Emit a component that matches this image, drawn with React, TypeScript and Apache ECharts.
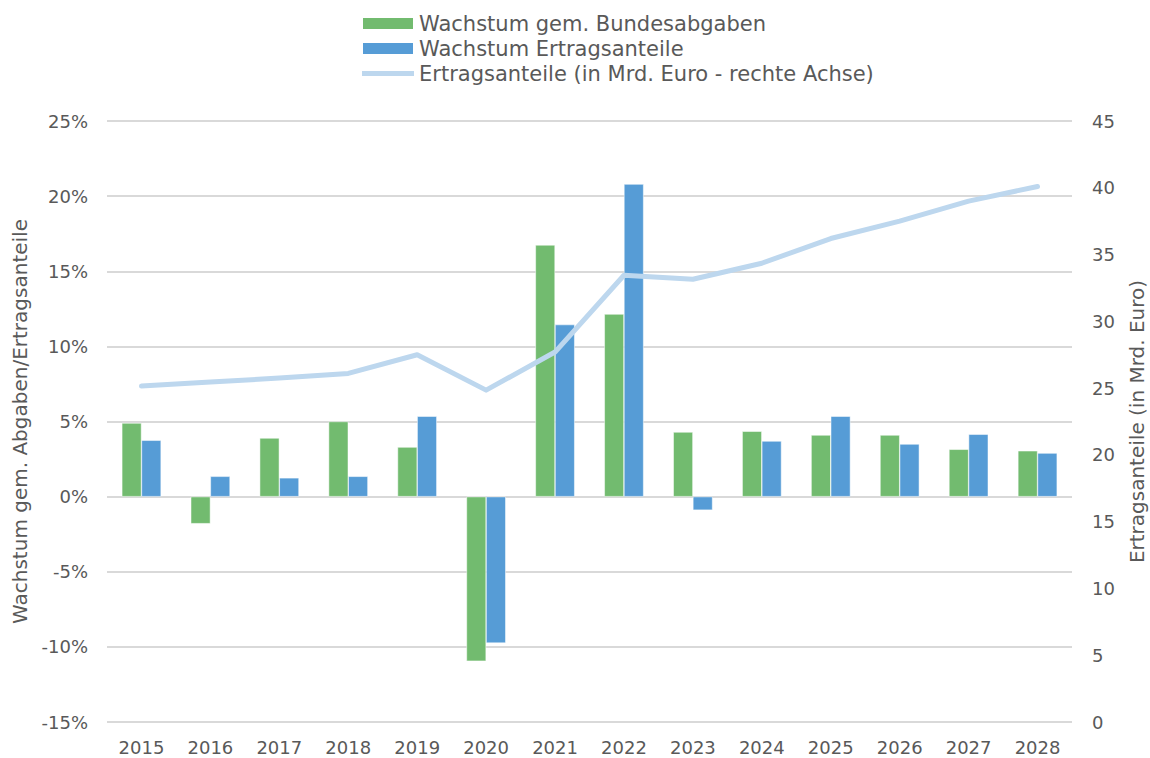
import React, { useEffect, useRef } from "react";
import * as echarts from "echarts";

const years = ["2015", "2016", "2017", "2018", "2019", "2020", "2021", "2022", "2023", "2024", "2025", "2026", "2027", "2028"];
const wachstumBundesabgaben = [4.9, -1.8, 3.9, 5.0, 3.3, -10.95, 16.75, 12.15, 4.3, 4.35, 4.1, 4.1, 3.15, 3.05];
const wachstumErtragsanteile = [3.75, 1.35, 1.25, 1.35, 5.35, -9.75, 11.45, 20.8, -0.9, 3.7, 5.35, 3.5, 4.15, 2.9];
const ertragsanteileMrd = [25.15, 25.45, 25.75, 26.1, 27.5, 24.85, 27.7, 33.45, 33.15, 34.35, 36.2, 37.5, 39.0, 40.1];

const legendNames = [
  "Wachstum gem. Bundesabgaben",
  "Wachstum Ertragsanteile",
  "Ertragsanteile (in Mrd. Euro - rechte Achse)",
];

const FONT = "'Century Gothic', 'DejaVu Sans', sans-serif";
const TXT = "#595959";

export default function App() {
  const ref = useRef<HTMLDivElement>(null);
  useEffect(() => {
    if (!ref.current) return;
    const chart = echarts.init(ref.current, null, { renderer: "svg" });
    chart.setOption({
      animation: false,
      textStyle: { fontFamily: FONT, color: TXT },
      legend: {
        orient: "vertical",
        left: 356,
        top: 8,
        padding: [5, 5, 5, 5],
        itemWidth: 52,
        itemHeight: 13,
        itemGap: 4,
        symbolKeepAspect: true,
        textStyle: { fontFamily: FONT, fontSize: 21, color: TXT, lineHeight: 21 },
        data: [
          { name: legendNames[0], icon: "rect" },
          { name: legendNames[1], icon: "rect" },
          { name: legendNames[2], icon: "path://M0,0 L52,0 L52,5 L0,5 Z", itemStyle: { color: "#BDD7EE" } },
        ],
      },
      grid: { left: 107, right: 78, top: 121, bottom: 36, containLabel: false, outerBoundsMode: "none" },
      xAxis: {
        type: "category",
        data: years,
        axisLine: { show: false, onZero: false },
        axisTick: { show: false },
        axisLabel: { fontFamily: FONT, fontSize: 18, color: TXT, margin: 16 },
      },
      yAxis: [
        {
          type: "value",
          min: -15,
          max: 25,
          interval: 5,
          name: "Wachstum gem. Abgaben/Ertragsanteile",
          nameLocation: "middle",
          nameGap: 77,
          nameMoveOverlap: false,
          nameTextStyle: { fontFamily: FONT, fontSize: 20, color: TXT },
          axisLabel: { formatter: "{value}%", fontFamily: FONT, fontSize: 18, color: TXT, margin: 19 },
          axisLine: { show: false },
          axisTick: { show: false },
          splitLine: { lineStyle: { color: "#d9d9d9", width: 2 } },
        },
        {
          type: "value",
          min: 0,
          max: 45,
          interval: 5,
          name: "Ertragsanteile (in Mrd. Euro)",
          nameLocation: "middle",
          nameGap: 55,
          nameRotate: 90,
          nameMoveOverlap: false,
          nameTextStyle: { fontFamily: FONT, fontSize: 20, color: TXT },
          axisLabel: { fontFamily: FONT, fontSize: 18, color: TXT, margin: 20 },
          axisLine: { show: false },
          axisTick: { show: false },
          splitLine: { show: false },
        },
      ],
      series: [
        {
          name: legendNames[0],
          type: "bar",
          data: wachstumBundesabgaben,
          yAxisIndex: 0,
          barGap: "0%",
          barCategoryGap: "43%",
          itemStyle: { color: "#72BB6F", borderColor: "#ffffff", borderWidth: 0.5 },
        },
        {
          name: legendNames[1],
          type: "bar",
          data: wachstumErtragsanteile,
          yAxisIndex: 0,
          barGap: "0%",
          barCategoryGap: "43%",
          itemStyle: { color: "#569CD6", borderColor: "#ffffff", borderWidth: 0.5 },
        },
        {
          name: legendNames[2],
          type: "line",
          data: ertragsanteileMrd,
          yAxisIndex: 1,
          symbol: "none",
          z: 5,
          lineStyle: { color: "#BDD7EE", width: 5, cap: "round", join: "round" },
          itemStyle: { color: "#BDD7EE" },
        },
      ],
    });
    return () => chart.dispose();
  }, []);
  return <div ref={ref} style={{ width: 1150, height: 758, position: "absolute", left: 0, top: 0 }} />;
}
